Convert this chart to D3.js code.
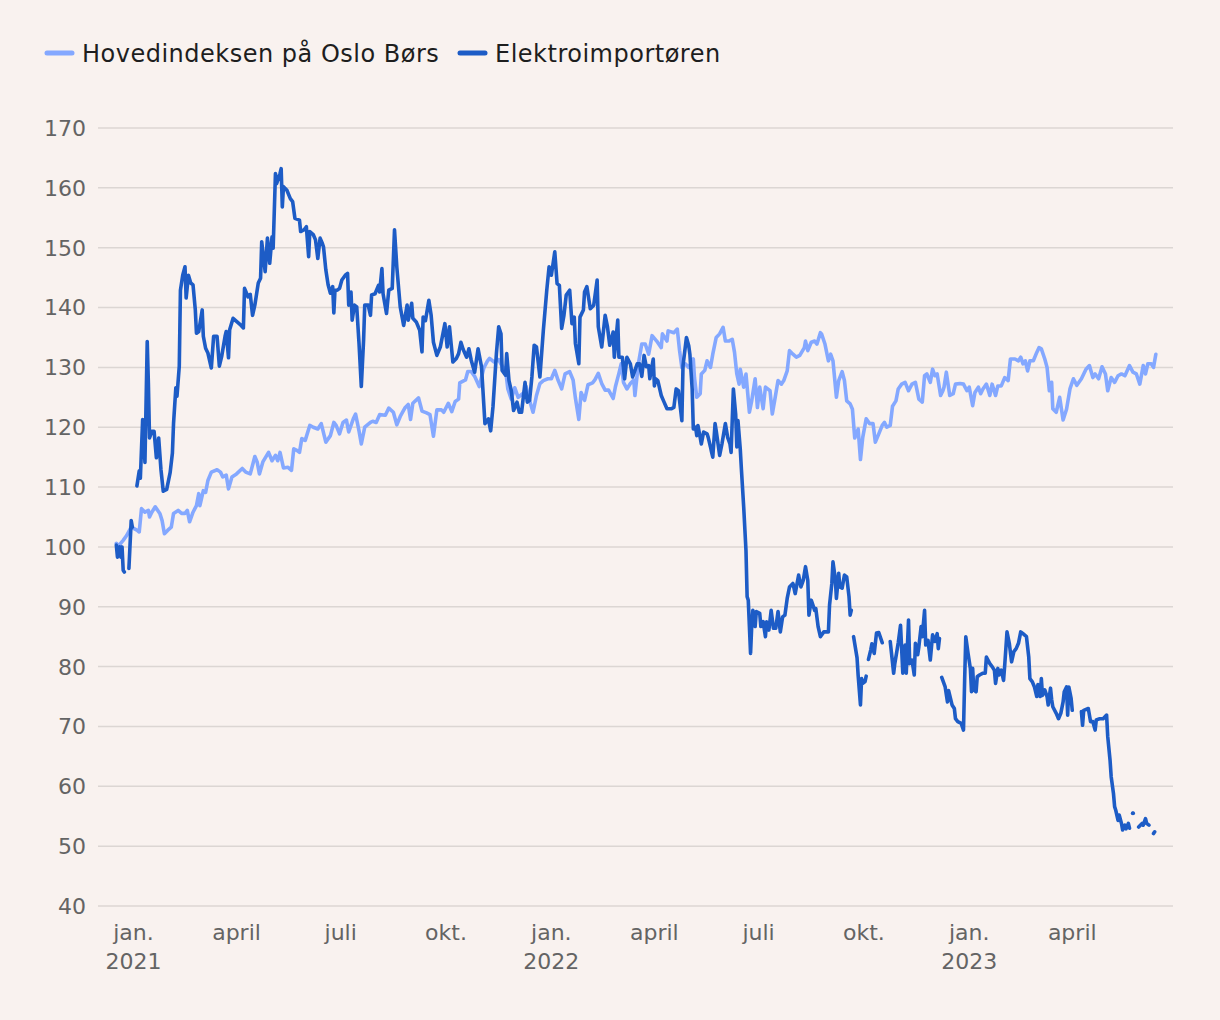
<!DOCTYPE html>
<html><head><meta charset="utf-8">
<script src="https://cdn.jsdelivr.net/npm/d3@7"></script>
<style>
html,body{margin:0;padding:0;background:#f9f2ef;}
svg{display:block;font-family:"DejaVu Sans",Inter,sans-serif;}
</style></head><body>
<svg id="chart" width="1220" height="1020"></svg>
<script>
const seriesNames = ["Hovedindeksen på Oslo Børs", "Elektroimportøren"];
const seriesColors = ["#84a8ff", "#1d5cc6"];
const yTickValues = [40, 50, 60, 70, 80, 90, 100, 110, 120, 130, 140, 150, 160, 170];
const monthTickLabels = {0: "jan.", 3: "april", 6: "juli", 9: "okt."};
const xDomain = ["2020-12-01", "2023-06-28"];

const hovedindeksen = [
["2020-12-17",100.6],["2020-12-19",100.2],["2020-12-23",101.1],["2020-12-26",101.9],["2020-12-30",103.3],
["2021-01-04",102.8],["2021-01-06",102.5],["2021-01-08",106.4],["2021-01-11",105.8],["2021-01-14",106.1],
["2021-01-15",105.0],["2021-01-17",105.8],["2021-01-20",106.7],["2021-01-24",105.6],["2021-01-26",104.4],
["2021-01-28",102.2],["2021-01-31",102.8],["2021-02-03",103.3],["2021-02-05",105.6],["2021-02-09",106.1],
["2021-02-12",105.6],["2021-02-15",105.6],["2021-02-17",106.1],["2021-02-19",104.2],["2021-02-22",105.8],
["2021-02-25",106.9],["2021-02-27",108.9],["2021-02-28",106.9],["2021-03-03",109.4],["2021-03-05",109.1],
["2021-03-07",111.1],["2021-03-10",112.5],["2021-03-15",112.9],["2021-03-18",112.5],["2021-03-20",111.7],
["2021-03-23",112.0],["2021-03-25",109.7],["2021-03-28",111.7],["2021-04-01",112.2],["2021-04-06",113.1],
["2021-04-09",112.5],["2021-04-13",112.2],["2021-04-17",115.1],["2021-04-19",114.2],["2021-04-21",112.2],
["2021-04-24",114.2],["2021-04-29",115.8],["2021-05-02",114.4],["2021-05-05",115.3],["2021-05-07",114.4],
["2021-05-09",115.8],["2021-05-12",113.2],["2021-05-16",113.3],["2021-05-19",112.8],["2021-05-21",116.4],
["2021-05-24",116.1],["2021-05-26",115.8],["2021-05-28",118.1],["2021-05-31",117.8],["2021-06-04",120.3],
["2021-06-07",120.0],["2021-06-11",119.7],["2021-06-14",120.6],["2021-06-18",117.5],["2021-06-22",118.6],
["2021-06-25",120.8],["2021-06-27",120.3],["2021-06-30",118.9],["2021-07-03",120.8],["2021-07-06",121.2],
["2021-07-08",119.2],["2021-07-12",121.4],["2021-07-14",122.2],["2021-07-17",119.4],["2021-07-19",117.2],
["2021-07-22",120.0],["2021-07-27",120.8],["2021-07-29",121.0],["2021-08-01",120.8],["2021-08-04",122.1],
["2021-08-09",122.0],["2021-08-12",123.2],["2021-08-16",122.5],["2021-08-19",120.4],["2021-08-22",121.8],
["2021-08-26",123.2],["2021-08-29",123.8],["2021-08-31",121.3],["2021-09-02",124.0],["2021-09-07",124.9],
["2021-09-10",122.7],["2021-09-14",122.4],["2021-09-17",122.1],["2021-09-20",118.5],["2021-09-23",122.9],
["2021-09-27",122.9],["2021-09-29",122.5],["2021-10-03",124.0],["2021-10-06",122.6],["2021-10-09",124.3],
["2021-10-12",124.7],["2021-10-13",127.4],["2021-10-18",127.9],["2021-10-20",129.3],["2021-10-23",129.3],
["2021-10-26",128.5],["2021-10-30",126.8],["2021-11-03",129.9],["2021-11-06",131.0],["2021-11-08",131.5],
["2021-11-12",130.9],["2021-11-16",131.3],["2021-11-19",130.2],["2021-11-22",129.6],["2021-11-24",126.4],
["2021-11-27",124.7],["2021-11-30",126.6],["2021-12-03",125.0],["2021-12-08",125.8],["2021-12-10",126.8],
["2021-12-12",125.1],["2021-12-16",122.5],["2021-12-19",125.3],["2021-12-22",127.3],["2021-12-25",127.8],
["2021-12-29",128.1],["2022-01-01",128.1],["2022-01-04",129.5],["2022-01-07",127.8],["2022-01-10",126.4],
["2022-01-13",128.9],["2022-01-17",129.3],["2022-01-20",127.9],["2022-01-22",124.9],["2022-01-25",121.3],
["2022-01-27",125.8],["2022-01-30",124.5],["2022-02-02",127.1],["2022-02-06",127.4],["2022-02-08",127.9],
["2022-02-11",129.0],["2022-02-14",127.3],["2022-02-17",126.2],["2022-02-20",126.2],["2022-02-24",124.8],
["2022-02-26",126.8],["2022-03-01",129.0],["2022-03-03",130.6],["2022-03-05",127.5],["2022-03-08",126.4],
["2022-03-11",127.3],["2022-03-14",127.9],["2022-03-15",125.3],["2022-03-18",130.6],["2022-03-21",133.9],
["2022-03-24",133.9],["2022-03-27",132.2],["2022-03-30",135.3],["2022-04-03",134.4],["2022-04-07",133.3],
["2022-04-08",135.6],["2022-04-12",134.4],["2022-04-13",136.1],["2022-04-18",135.8],["2022-04-21",136.4],
["2022-04-23",132.8],["2022-04-25",130.0],["2022-04-28",130.6],["2022-05-01",130.0],["2022-05-05",131.4],
["2022-05-06",128.3],["2022-05-08",125.0],["2022-05-11",125.6],["2022-05-12",128.9],["2022-05-15",129.5],
["2022-05-17",131.1],["2022-05-20",130.0],["2022-05-22",132.2],["2022-05-25",135.0],["2022-05-28",135.6],
["2022-05-31",136.7],["2022-06-02",134.4],["2022-06-05",134.4],["2022-06-08",134.7],["2022-06-10",132.5],
["2022-06-12",128.9],["2022-06-14",127.2],["2022-06-15",129.7],["2022-06-18",126.7],["2022-06-20",128.9],
["2022-06-23",122.5],["2022-06-25",124.4],["2022-06-28",128.1],["2022-06-30",123.3],["2022-07-02",126.7],
["2022-07-05",123.1],["2022-07-07",126.7],["2022-07-09",126.4],["2022-07-11",126.1],["2022-07-13",122.2],
["2022-07-15",124.4],["2022-07-18",127.8],["2022-07-21",127.2],["2022-07-23",127.8],["2022-07-26",129.4],
["2022-07-28",132.8],["2022-07-31",132.2],["2022-08-03",131.7],["2022-08-06",132.0],["2022-08-10",133.3],
["2022-08-11",134.4],["2022-08-13",132.8],["2022-08-16",134.2],["2022-08-19",134.4],["2022-08-21",133.9],
["2022-08-24",135.8],["2022-08-25",135.6],["2022-08-28",133.9],["2022-08-31",131.1],["2022-09-02",132.2],
["2022-09-04",131.1],["2022-09-07",125.0],["2022-09-09",127.8],["2022-09-12",129.3],["2022-09-14",127.8],
["2022-09-16",124.4],["2022-09-19",123.9],["2022-09-21",123.0],["2022-09-23",118.2],["2022-09-26",119.7],
["2022-09-28",114.6],["2022-09-30",118.3],["2022-10-03",121.4],["2022-10-06",120.6],["2022-10-09",120.6],
["2022-10-11",117.5],["2022-10-14",118.9],["2022-10-17",120.3],["2022-10-19",120.8],["2022-10-21",120.0],
["2022-10-24",120.3],["2022-10-26",123.5],["2022-10-29",124.4],["2022-10-31",126.4],["2022-11-03",127.2],
["2022-11-06",127.5],["2022-11-09",126.1],["2022-11-12",127.2],["2022-11-15",127.5],["2022-11-18",124.7],
["2022-11-21",124.2],["2022-11-23",128.6],["2022-11-25",128.9],["2022-11-28",127.5],["2022-11-30",129.7],
["2022-12-02",128.6],["2022-12-04",128.9],["2022-12-07",125.3],["2022-12-09",126.1],["2022-12-10",126.7],
["2022-12-12",129.2],["2022-12-15",125.3],["2022-12-18",125.6],["2022-12-20",127.2],["2022-12-24",127.3],
["2022-12-27",127.2],["2022-12-30",126.1],["2023-01-01",126.7],["2023-01-04",123.6],["2023-01-06",125.8],
["2023-01-09",126.7],["2023-01-11",125.6],["2023-01-13",126.4],["2023-01-16",127.2],["2023-01-19",125.3],
["2023-01-21",127.2],["2023-01-24",125.3],["2023-01-26",126.9],["2023-01-29",126.9],["2023-02-01",128.3],
["2023-02-04",127.8],["2023-02-06",131.4],["2023-02-10",131.4],["2023-02-13",131.1],["2023-02-15",131.7],
["2023-02-17",130.6],["2023-02-19",131.1],["2023-02-21",129.4],["2023-02-23",131.1],["2023-02-26",131.1],
["2023-03-01",132.5],["2023-03-03",133.3],["2023-03-05",133.1],["2023-03-08",131.4],["2023-03-10",130.0],
["2023-03-12",126.1],["2023-03-14",127.5],["2023-03-15",123.1],["2023-03-18",122.5],["2023-03-21",125.0],
["2023-03-24",121.2],["2023-03-27",123.0],["2023-03-30",126.4],["2023-04-02",128.1],["2023-04-05",127.0],
["2023-04-09",128.1],["2023-04-13",129.7],["2023-04-16",130.3],["2023-04-19",128.3],["2023-04-21",128.9],
["2023-04-24",128.1],["2023-04-27",130.1],["2023-04-30",128.9],["2023-05-02",126.1],["2023-05-05",128.3],
["2023-05-08",127.5],["2023-05-11",128.6],["2023-05-14",128.9],["2023-05-17",128.6],["2023-05-21",130.3],
["2023-05-24",129.2],["2023-05-27",128.9],["2023-05-30",127.2],["2023-06-02",130.3],["2023-06-04",128.9],
["2023-06-06",130.6],["2023-06-09",130.6],["2023-06-11",130.0],["2023-06-13",132.2]
];

const elektroimportoren = [
["2020-12-17",100.3],["2020-12-18",98.3],["2020-12-20",100.0],["2020-12-21",98.3],["2020-12-22",100.0],
["2020-12-23",96.1],["2020-12-24",95.8],["2020-12-26",null],["2020-12-28",96.4],["2020-12-30",104.4],
["2020-12-31",103.3],["2021-01-02",null],["2021-01-04",110.2],["2021-01-06",112.7],["2021-01-07",111.5],
["2021-01-09",121.3],["2021-01-10",118.5],["2021-01-11",114.1],["2021-01-13",134.3],["2021-01-14",127.4],
["2021-01-15",118.2],["2021-01-17",119.3],["2021-01-19",119.3],["2021-01-21",114.9],["2021-01-23",118.2],
["2021-01-25",112.9],["2021-01-27",109.3],["2021-01-30",109.6],["2021-02-02",112.4],["2021-02-04",115.7],
["2021-02-05",120.7],["2021-02-07",126.6],["2021-02-08",125.2],["2021-02-10",130.2],["2021-02-11",142.9],
["2021-02-13",145.4],["2021-02-15",146.8],["2021-02-16",141.6],["2021-02-18",145.4],["2021-02-20",144.1],
["2021-02-22",143.8],["2021-02-24",139.6],["2021-02-25",135.7],["2021-02-27",136.0],["2021-03-02",139.6],
["2021-03-03",135.2],["2021-03-05",133.2],["2021-03-07",132.4],["2021-03-10",129.9],["2021-03-12",135.2],
["2021-03-15",135.2],["2021-03-17",130.2],["2021-03-19",131.8],["2021-03-22",135.2],["2021-03-23",136.0],
["2021-03-25",131.6],["2021-03-26",136.3],["2021-03-29",138.2],["2021-04-01",137.7],["2021-04-04",137.2],
["2021-04-07",136.6],["2021-04-08",143.2],["2021-04-11",141.8],["2021-04-13",142.2],["2021-04-15",138.7],
["2021-04-17",140.4],["2021-04-20",144.1],["2021-04-22",144.9],["2021-04-23",151.0],["2021-04-25",147.7],
["2021-04-26",146.0],["2021-04-28",151.6],["2021-04-30",147.4],["2021-05-02",151.8],["2021-05-03",149.9],
["2021-05-05",162.4],["2021-05-06",160.7],["2021-05-09",162.4],["2021-05-10",163.2],["2021-05-11",156.8],
["2021-05-12",160.2],["2021-05-15",159.6],["2021-05-18",158.2],["2021-05-20",157.7],["2021-05-22",154.9],
["2021-05-26",154.6],["2021-05-27",152.7],["2021-05-30",153.0],["2021-06-01",153.5],["2021-06-03",148.5],
["2021-06-04",152.7],["2021-06-07",152.2],["2021-06-09",151.3],["2021-06-11",148.2],["2021-06-13",151.6],
["2021-06-15",150.7],["2021-06-16",150.1],["2021-06-18",146.3],["2021-06-20",143.8],["2021-06-22",142.4],
["2021-06-24",143.5],["2021-06-25",139.1],["2021-06-26",142.9],["2021-06-28",142.9],["2021-06-30",143.2],
["2021-07-02",144.6],["2021-07-05",145.4],["2021-07-07",145.7],["2021-07-08",140.4],["2021-07-10",142.6],
["2021-07-11",137.9],["2021-07-13",140.4],["2021-07-15",140.1],["2021-07-17",134.0],["2021-07-19",126.8],
["2021-07-21",134.6],["2021-07-22",140.4],["2021-07-25",140.4],["2021-07-27",138.7],["2021-07-28",142.1],
["2021-07-31",142.3],["2021-08-03",143.7],["2021-08-04",142.6],["2021-08-06",146.5],["2021-08-07",142.3],
["2021-08-10",139.0],["2021-08-12",142.9],["2021-08-15",143.2],["2021-08-17",153.0],["2021-08-19",146.8],
["2021-08-22",140.1],["2021-08-25",137.0],["2021-08-28",140.4],["2021-08-29",137.9],["2021-09-01",140.7],
["2021-09-02",138.2],["2021-09-05",137.6],["2021-09-08",136.2],["2021-09-10",132.6],["2021-09-11",138.4],
["2021-09-13",137.8],["2021-09-16",141.2],["2021-09-18",138.7],["2021-09-20",134.2],["2021-09-23",132.0],
["2021-09-26",133.4],["2021-09-30",137.3],["2021-10-02",133.4],["2021-10-04",136.8],["2021-10-07",130.9],
["2021-10-10",131.5],["2021-10-12",132.3],["2021-10-14",134.2],["2021-10-16",133.0],["2021-10-19",131.7],
["2021-10-21",133.1],["2021-10-23",131.2],["2021-10-26",129.2],["2021-10-29",133.1],["2021-11-01",130.1],
["2021-11-04",120.6],["2021-11-06",121.1],["2021-11-07",121.4],["2021-11-09",119.4],["2021-11-11",123.4],
["2021-11-14",132.3],["2021-11-16",136.8],["2021-11-18",135.6],["2021-11-19",129.5],["2021-11-22",128.7],
["2021-11-23",132.3],["2021-11-25",127.8],["2021-11-27",126.1],["2021-11-29",122.8],["2021-12-02",124.2],
["2021-12-04",122.5],["2021-12-06",122.5],["2021-12-09",127.5],["2021-12-11",124.2],["2021-12-13",124.5],
["2021-12-15",128.4],["2021-12-17",133.7],["2021-12-19",133.4],["2021-12-22",128.4],["2021-12-25",136.2],
["2021-12-28",142.9],["2021-12-30",146.8],["2022-01-01",145.4],["2022-01-04",149.3],["2022-01-06",144.0],
["2022-01-08",143.7],["2022-01-10",136.5],["2022-01-12",138.7],["2022-01-14",142.1],["2022-01-17",142.9],
["2022-01-19",137.3],["2022-01-21",138.4],["2022-01-22",134.0],["2022-01-25",130.6],["2022-01-26",138.4],
["2022-01-29",139.6],["2022-01-30",142.6],["2022-02-01",143.5],["2022-02-04",139.8],["2022-02-07",140.4],
["2022-02-10",144.6],["2022-02-11",136.8],["2022-02-14",133.4],["2022-02-17",138.7],["2022-02-19",136.8],
["2022-02-21",133.7],["2022-02-24",135.9],["2022-02-25",131.7],["2022-02-28",137.9],["2022-03-01",131.7],
["2022-03-04",131.7],["2022-03-06",128.1],["2022-03-08",131.7],["2022-03-11",130.6],["2022-03-13",128.4],
["2022-03-17",130.6],["2022-03-19",130.6],["2022-03-21",128.5],["2022-03-23",132.0],["2022-03-25",130.1],
["2022-03-27",130.3],["2022-03-28",128.1],["2022-03-31",131.4],["2022-04-01",126.9],["2022-04-02",128.1],
["2022-04-04",127.8],["2022-04-07",125.3],["2022-04-09",124.4],["2022-04-12",123.1],["2022-04-16",123.1],
["2022-04-18",123.3],["2022-04-20",126.4],["2022-04-22",126.1],["2022-04-25",121.1],["2022-04-26",130.3],
["2022-04-29",135.0],["2022-05-01",133.6],["2022-05-02",132.2],["2022-05-04",126.4],["2022-05-05",119.7],
["2022-05-07",120.0],["2022-05-08",118.6],["2022-05-09",120.3],["2022-05-11",118.3],["2022-05-12",117.2],
["2022-05-14",119.2],["2022-05-17",118.9],["2022-05-18",118.3],["2022-05-20",116.7],["2022-05-21",115.8],
["2022-05-22",115.0],["2022-05-24",120.6],["2022-05-25",119.4],["2022-05-28",115.3],["2022-05-30",117.2],
["2022-06-02",120.6],["2022-06-04",118.3],["2022-06-06",117.2],["2022-06-07",115.8],["2022-06-09",126.4],
["2022-06-11",122.2],["2022-06-12",116.7],["2022-06-13",121.1],["2022-06-15",116.4],["2022-06-16",113.0],
["2022-06-18",106.7],["2022-06-20",99.4],["2022-06-21",91.7],["2022-06-22",91.1],["2022-06-24",82.2],
["2022-06-25",86.7],["2022-06-26",89.4],["2022-06-28",86.7],["2022-06-29",89.2],["2022-07-02",88.9],
["2022-07-03",86.7],["2022-07-05",87.5],["2022-07-07",85.0],["2022-07-08",87.5],["2022-07-10",86.1],
["2022-07-12",89.4],["2022-07-14",86.4],["2022-07-16",86.4],["2022-07-18",89.2],["2022-07-20",85.8],
["2022-07-22",88.3],["2022-07-24",88.6],["2022-07-26",91.4],["2022-07-28",93.3],["2022-07-31",93.9],
["2022-08-02",92.2],["2022-08-05",95.3],["2022-08-07",93.3],["2022-08-09",94.4],["2022-08-11",96.7],
["2022-08-13",94.4],["2022-08-14",88.6],["2022-08-16",91.1],["2022-08-19",89.4],["2022-08-20",89.7],
["2022-08-22",86.7],["2022-08-24",85.0],["2022-08-27",85.8],["2022-08-31",85.8],["2022-09-01",90.3],
["2022-09-03",93.9],["2022-09-04",97.5],["2022-09-06",94.7],["2022-09-07",91.4],["2022-09-09",95.6],
["2022-09-10",93.3],["2022-09-12",93.1],["2022-09-14",95.3],["2022-09-16",95.0],["2022-09-18",91.7],
["2022-09-19",88.6],["2022-09-20",89.4],["2022-09-21",null],["2022-09-22",85.0],["2022-09-25",81.5],
["2022-09-26",78.5],["2022-09-28",73.6],["2022-09-29",78.0],["2022-09-30",77.2],["2022-10-02",77.5],
["2022-10-03",78.4],["2022-10-04",null],["2022-10-05",81.2],["2022-10-07",82.8],["2022-10-08",83.8],
["2022-10-10",82.2],["2022-10-12",85.6],["2022-10-14",85.7],["2022-10-17",84.0],["2022-10-20",null],
["2022-10-24",84.2],["2022-10-27",78.9],["2022-10-28",80.5],["2022-10-30",82.8],["2022-10-31",84.0],
["2022-11-02",86.9],["2022-11-04",78.9],["2022-11-06",83.6],["2022-11-07",78.9],["2022-11-09",87.8],
["2022-11-10",80.5],["2022-11-12",81.1],["2022-11-14",78.6],["2022-11-15",83.9],["2022-11-17",82.0],
["2022-11-18",83.3],["2022-11-20",86.7],["2022-11-21",85.0],["2022-11-23",89.4],["2022-11-24",83.6],
["2022-11-26",84.4],["2022-11-28",81.1],["2022-11-30",85.3],["2022-12-02",84.2],["2022-12-04",85.5],
["2022-12-05",83.0],["2022-12-06",84.7],["2022-12-07",null],["2022-12-08",78.2],["2022-12-11",76.6],
["2022-12-13",74.1],["2022-12-14",76.0],["2022-12-17",73.6],["2022-12-19",73.0],["2022-12-20",71.3],
["2022-12-22",70.8],["2022-12-25",70.5],["2022-12-27",69.4],["2022-12-28",77.7],["2022-12-29",85.0],
["2022-12-31",82.2],["2023-01-02",79.7],["2023-01-03",75.8],["2023-01-04",79.7],["2023-01-05",76.1],
["2023-01-07",75.8],["2023-01-08",78.3],["2023-01-10",78.6],["2023-01-13",78.9],["2023-01-15",78.9],
["2023-01-16",81.6],["2023-01-19",80.5],["2023-01-21",80.0],["2023-01-23",79.4],["2023-01-24",77.2],
["2023-01-26",79.7],["2023-01-27",78.6],["2023-01-29",79.4],["2023-01-31",77.7],["2023-02-01",80.2],
["2023-02-03",85.8],["2023-02-05",83.9],["2023-02-07",80.8],["2023-02-09",82.5],["2023-02-11",83.0],
["2023-02-13",83.9],["2023-02-15",85.8],["2023-02-17",85.5],["2023-02-20",85.0],["2023-02-22",81.6],
["2023-02-23",78.0],["2023-02-25",77.5],["2023-02-27",76.6],["2023-03-01",75.0],["2023-03-02",77.0],
["2023-03-04",75.0],["2023-03-05",78.0],["2023-03-06",75.2],["2023-03-08",76.1],["2023-03-10",75.0],
["2023-03-11",73.6],["2023-03-13",76.4],["2023-03-14",74.5],["2023-03-15",73.3],["2023-03-18",72.2],
["2023-03-20",71.3],["2023-03-22",72.2],["2023-03-24",74.1],["2023-03-25",75.8],["2023-03-27",76.6],
["2023-03-28",71.9],["2023-03-29",76.6],["2023-03-31",74.7],["2023-04-01",72.7],["2023-04-05",null],
["2023-04-09",72.5],["2023-04-10",70.2],["2023-04-11",72.7],["2023-04-15",73.0],["2023-04-17",70.8],
["2023-04-19",70.8],["2023-04-21",69.4],["2023-04-22",71.1],["2023-04-25",71.3],["2023-04-28",71.3],
["2023-05-01",71.9],["2023-05-02",68.3],["2023-05-04",64.4],["2023-05-05",61.6],["2023-05-07",58.8],
["2023-05-08",56.6],["2023-05-09",56.0],["2023-05-11",54.3],["2023-05-12",55.2],["2023-05-14",53.8],
["2023-05-15",52.7],["2023-05-17",53.5],["2023-05-18",52.9],["2023-05-20",53.8],["2023-05-21",53.0],
["2023-05-22",null],["2023-05-24",55.5],["2023-05-26",null],["2023-05-29",53.2],["2023-06-01",53.8],
["2023-06-02",53.5],["2023-06-04",54.6],["2023-06-05",53.8],["2023-06-07",53.5],["2023-06-09",null],
["2023-06-11",52.1],["2023-06-12",52.4]
];

const parse = d3.utcParse("%Y-%m-%d");
const svg = d3.select("#chart");
const W = 1220, H = 1020;
svg.append("rect").attr("width", W).attr("height", H).attr("fill", "#f9f2ef");

const x = d3.scaleUtc().domain(xDomain.map(parse)).range([98, 1173]);
const y = d3.scaleLinear().domain([40, 170]).range([906, 128]);

const tickColor = "#646464";
const tickSize = 22;

// grid + y labels
const grid = svg.append("g");
grid.selectAll("line").data(yTickValues).join("line")
  .attr("x1", x.range()[0]).attr("x2", x.range()[1])
  .attr("y1", d => y(d)).attr("y2", d => y(d))
  .attr("stroke", "#dcd6d3").attr("stroke-width", 1.5);
grid.selectAll("text").data(yTickValues).join("text")
  .attr("x", 86).attr("y", d => y(d)).attr("dy", "0.36em")
  .attr("text-anchor", "end").attr("font-size", tickSize).attr("fill", tickColor)
  .text(d => d);

// x labels
const xTicks = d3.utcMonth.every(3).range(x.domain()[0], x.domain()[1]);
const xg = svg.append("g");
xTicks.forEach(t => {
  const m = t.getUTCMonth();
  xg.append("text").attr("x", x(t)).attr("y", 940).attr("text-anchor", "middle")
    .attr("font-size", tickSize).attr("fill", tickColor).text(monthTickLabels[m]);
  if (m === 0) {
    xg.append("text").attr("x", x(t)).attr("y", 969).attr("text-anchor", "middle")
      .attr("font-size", tickSize).attr("fill", tickColor).text(t.getUTCFullYear());
  }
});

// lines
const allSeries = [hovedindeksen, elektroimportoren];
const line = d3.line()
  .defined(d => d[1] != null)
  .x(d => x(parse(d[0])))
  .y(d => y(d[1]));

allSeries.forEach((s, i) => {
  svg.append("path").attr("d", line(s)).attr("fill", "none")
    .attr("stroke", seriesColors[i]).attr("stroke-width", 3.6)
    .attr("stroke-linejoin", "round").attr("stroke-linecap", "round");
  const iso = s.filter((d, k) => d[1] != null &&
    (k === 0 || s[k-1][1] == null) && (k === s.length - 1 || s[k+1][1] == null));
  svg.selectAll(null).data(iso).join("circle")
    .attr("cx", d => x(parse(d[0]))).attr("cy", d => y(d[1]))
    .attr("r", 2.1).attr("fill", seriesColors[i]);
});

// legend
const legendX = [45, 458];
seriesNames.forEach((n, i) => {
  const g = svg.append("g").attr("transform", `translate(${legendX[i]},53)`);
  g.append("line").attr("x1", 2).attr("x2", 27).attr("y1", 0).attr("y2", 0)
    .attr("stroke", seriesColors[i]).attr("stroke-width", 5).attr("stroke-linecap", "round");
  g.append("text").attr("x", 37).attr("y", 0).attr("dy", "0.36em")
    .attr("font-size", 24).attr("letter-spacing", 0.5).attr("fill", "#1e1e1e").text(n);
});
</script>
</body></html>
